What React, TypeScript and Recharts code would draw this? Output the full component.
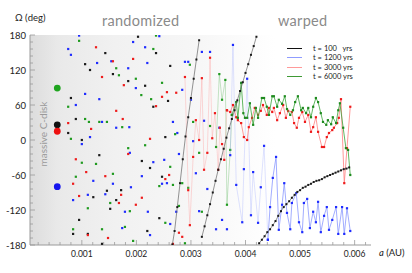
import { ComposedChart, Scatter, XAxis, YAxis } from 'recharts';

type Pt = [number, number];

// semi-major axis a (AU) vs node longitude Omega (deg)
const diskGreen: Pt[] = [[0.00055, 89]];
const diskBlack: Pt[] = [[0.00055, 26]];
const diskRed: Pt[] = [[0.00055, 15]];
const diskBlue: Pt[] = [[0.00055, -80]];

// t = 100 yrs
const blackRandom: Pt[] = [
  [0.00075, 12], [0.0008, 72], [0.00084, -161], [0.00089, 36], [0.00095, -137], [0.001, 0],
  [0.00106, 130], [0.00111, -161], [0.00115, 120], [0.00121, -98], [0.00132, -26], [0.00137, -178],
  [0.00143, 149], [0.00146, -87], [0.00152, -118], [0.00157, 113], [0.00163, -103], [0.00172, -86],
  [0.00185, 101], [0.00203, 177], [0.0021, -36], [0.00216, 93], [0.0022, -156], [0.00225, -48],
  [0.00231, 57], [0.00236, 149], [0.00242, -134], [0.00247, -63], [0.00253, 5], [0.00258, 67],
  [0.00262, 127],
];
const blackWarp1: Pt[] = [
  [0.00266, -179], [0.0027, -156], [0.00275, -115], [0.0028, -74], [0.00285, -33], [0.0029, 6],
  [0.00295, 39], [0.003, 72], [0.00305, 105], [0.0031, 138], [0.00315, 171],
];
const blackWarp2: Pt[] = [
  [0.0032, -166], [0.00325, -148], [0.0033, -129], [0.00335, -110], [0.0034, -90], [0.00345, -70],
  [0.0035, -51], [0.00355, -33], [0.0036, -15], [0.00365, 4], [0.0037, 20], [0.00375, 36],
  [0.0038, 51], [0.00385, 68], [0.0039, 84], [0.00395, 99], [0.004, 115], [0.00405, 130],
  [0.0041, 146], [0.00415, 161], [0.0042, 177],
];
const blackWarp3: Pt[] = [
  [0.00425, -177], [0.0043, -171], [0.00435, -165], [0.0044, -158], [0.00445, -153], [0.0045, -146],
  [0.00455, -139], [0.0046, -130], [0.00465, -122], [0.0047, -115], [0.00475, -110], [0.0048, -105],
  [0.00485, -99], [0.0049, -94], [0.00495, -89], [0.005, -86], [0.00505, -82], [0.0051, -80],
  [0.00515, -77], [0.0052, -75], [0.00525, -72], [0.0053, -70], [0.00535, -69], [0.0054, -67],
  [0.00545, -64], [0.0055, -62], [0.00555, -60], [0.0056, -58], [0.00565, -56], [0.0057, -54],
  [0.00575, -52], [0.0058, -50], [0.00585, -49], [0.0059, -47],
];

// t = 1200 yrs
const blueRandom: Pt[] = [
  [0.00075, 156], [0.0008, 146], [0.00084, -103], [0.00089, 60], [0.00095, 179], [0.001, -7],
  [0.00106, 79], [0.00111, -94], [0.00115, 5], [0.00121, -70], [0.00128, 132], [0.00132, 70],
  [0.00137, 31], [0.00143, -93], [0.00154, 135], [0.00157, -75], [0.00163, 21], [0.00174, -151],
  [0.00179, -123], [0.00185, 123], [0.00187, 22], [0.00188, -22], [0.0019, -81], [0.00194, 168],
  [0.00199, 89], [0.0021, -62], [0.00216, 159], [0.0022, 132], [0.00221, -123], [0.00225, -163],
  [0.00231, -38], [0.00242, 178], [0.00247, -75], [0.00251, -34], [0.00256, -74], [0.00262, -144],
  [0.00267, 31], [0.00273, -123], [0.00275, 12], [0.00278, -24], [0.00284, 86], [0.00289, 134],
  [0.00295, 134], [0.003, 69], [0.00304, -2], [0.00309, -57], [0.00315, -122], [0.0032, 151],
  [0.00324, 33], [0.0033, -84], [0.00335, 151], [0.00346, -153], [0.00352, 21], [0.00357, -137],
  [0.00366, -153],
];
const blueFaint: Pt[] = [
  [0.00372, -26], [0.00377, 163], [0.00383, -77], [0.00394, -141], [0.00397, -50], [0.00403, 105],
  [0.0041, -129], [0.00414, -55], [0.00423, -142], [0.00428, -81], [0.00434, -10], [0.00441, -171],
];
const blueWarp: Pt[] = [
  [0.00441, -171], [0.00445, -115], [0.0045, -65], [0.00456, -29], [0.00461, -154], [0.00467, -111],
  [0.00471, -74], [0.00476, -125], [0.00482, -153], [0.00485, -108], [0.00493, -91], [0.00498, -141],
  [0.00504, -158], [0.00507, -108], [0.00513, -101], [0.00518, -151], [0.00524, -123], [0.00529, -141],
  [0.00533, -106], [0.00538, -158], [0.00544, -130], [0.00549, -115], [0.00553, -154], [0.00559, -137],
  [0.00566, -115], [0.0057, -161], [0.00577, -115], [0.00581, -161], [0.00586, -117], [0.00592, -156],
];

// t = 3000 yrs
const redRandom: Pt[] = [
  [0.00075, 29], [0.00084, -75], [0.00089, -33], [0.00095, -96], [0.00108, -55], [0.00111, -163],
  [0.00117, 19], [0.00126, 159], [0.00137, 108], [0.00143, -62], [0.00148, -168], [0.00157, 135],
  [0.00163, 50], [0.00168, -108], [0.00172, -94], [0.00175, 36], [0.00177, 94], [0.00185, -24],
  [0.00194, 139], [0.00199, -111], [0.0021, -99], [0.00225, 2], [0.00236, 58], [0.00247, 74],
  [0.00253, -67], [0.00256, 82], [0.0026, -60], [0.00267, -178], [0.00273, 81], [0.00278, -159],
  [0.00284, -166],
];
const redFaint: Pt[] = [
  [0.00289, 108], [0.00295, -86], [0.00298, -146], [0.00304, -29], [0.00309, 34], [0.00315, 0],
  [0.0032, 106], [0.00324, -51], [0.0033, -22], [0.00335, 141], [0.00339, 3], [0.00344, 46],
  [0.0035, -51], [0.00353, 21], [0.00357, -7], [0.00361, -34], [0.00366, 51],
];
const redWarp: Pt[] = [
  [0.00366, 51], [0.00372, 48], [0.00377, 60], [0.00383, 39], [0.00386, 34], [0.00392, 29],
  [0.00397, 5], [0.00403, 0], [0.00406, 22], [0.00412, 38], [0.00417, 55], [0.00423, 43],
  [0.00428, 50], [0.00432, 60], [0.00439, 43], [0.00443, 55], [0.00449, 48], [0.00452, 55],
  [0.00458, 34], [0.00463, 46], [0.00469, 60], [0.00474, 38], [0.00478, 50], [0.00485, 48],
  [0.00489, 29], [0.00494, 21], [0.00498, 38], [0.00504, 48], [0.00509, 31], [0.00515, 43],
  [0.0052, 14], [0.00524, 22], [0.00529, 39], [0.00533, 14], [0.0054, -12], [0.00544, -12],
  [0.00549, 5], [0.00553, 12], [0.00559, 17], [0.00562, 21], [0.00568, 29], [0.00571, 38],
  [0.00575, 70], [0.00581, -74], [0.00586, -14], [0.00592, 57],
];

// t = 6000 yrs
const greenRandom: Pt[] = [
  [0.00075, 57], [0.0008, 2], [0.00084, -153], [0.00089, -63], [0.00095, 170], [0.001, -39],
  [0.00106, 36], [0.00111, -117], [0.00113, 31], [0.00126, -41], [0.00132, 31], [0.00137, -153],
  [0.00146, 31], [0.00152, -108], [0.00157, -58], [0.00163, 123], [0.00168, 111], [0.00174, 22],
  [0.00179, -149], [0.00185, -14], [0.00188, -122], [0.00194, -173], [0.00199, 105], [0.00209, 77],
  [0.00216, -9], [0.00227, 70], [0.00231, 156], [0.00236, 179], [0.00242, -79], [0.00247, 98],
  [0.00253, -142], [0.00262, -46], [0.00267, -77], [0.00271, 10], [0.00278, -113], [0.00284, -74],
  [0.00289, -177], [0.00295, -82], [0.00298, 129], [0.00304, 31], [0.00315, -22], [0.0032, -123],
  [0.00335, 24],
];
const greenFaint: Pt[] = [
  [0.00346, -12], [0.00352, 113], [0.00357, 69], [0.00363, 103], [0.00366, -111], [0.00372, -17],
  [0.00375, 43],
];
const greenWarp: Pt[] = [
  [0.00375, 43], [0.00383, 65], [0.00386, 38], [0.00392, 98], [0.00396, 46], [0.00399, 38],
  [0.00403, 38], [0.00408, 63], [0.00414, 26], [0.00419, 55], [0.00423, 38], [0.0043, 72],
  [0.00434, 72], [0.00439, 57], [0.00443, 43], [0.00449, 75], [0.00452, 75], [0.00458, 57],
  [0.00461, 69], [0.00467, 62], [0.00472, 75], [0.00476, 53], [0.00482, 43], [0.00487, 51],
  [0.00491, 65], [0.00496, 75], [0.00502, 51], [0.00505, 55], [0.00511, 46], [0.00515, 55],
  [0.0052, 39], [0.00524, 57], [0.00529, 72], [0.00533, 65], [0.00538, 46], [0.00542, 31],
  [0.00548, 26], [0.00551, 34], [0.00557, 27], [0.0056, 39], [0.00566, 29], [0.0057, 51],
  [0.00573, 63], [0.00579, 21], [0.00584, -14], [0.00588, -17], [0.00592, -60],
];

const xTicks = [
  0.0002, 0.0004, 0.0006, 0.0008, 0.001, 0.0012, 0.0014, 0.0016, 0.0018, 0.002, 0.0022,
  0.0024, 0.0026, 0.0028, 0.003, 0.0032, 0.0034, 0.0036, 0.0038, 0.004, 0.0042, 0.0044,
  0.0046, 0.0048, 0.005, 0.0052, 0.0054, 0.0056, 0.0058, 0.006, 0.0062,
];
const yTicks = [
  -180, -168, -156, -144, -132, -120, -108, -96, -84, -72, -60, -48, -36, -24, -12, 0,
  12, 24, 36, 48, 60, 72, 84, 96, 108, 120, 132, 144, 156, 168, 180,
];
const legendLabels = ['t = 100   yrs', 't = 1200 yrs', 't = 3000 yrs', 't = 6000 yrs'];
const legendColors = ['#111111', '#8f9cff', '#ff9a9a', '#3f9a35'];

const FONT = 'Lato, "Open Sans", sans-serif';
const AXIS = '#9a9a9a';

const toPts = (pts: Pt[]) => pts.map(([a, w]) => ({ a, w }));
const isMajorX = (v: number) => Math.abs(v * 1000 - Math.round(v * 1000)) < 1e-6;
const isMajorY = (v: number) => v % 60 === 0;

const square = (fill: string, s = 2.2) => (p: any) => (
  <rect x={p.cx - s / 2} y={p.cy - s / 2} width={s} height={s} fill={fill} />
);
const bigDot = (fill: string) => (p: any) => <circle cx={p.cx} cy={p.cy} r={3.4} fill={fill} />;

function BottomTick({ x, y, payload }: any) {
  const major = isMajorX(payload.value);
  return (
    <g>
      <line x1={x} y1={y} x2={x} y2={y - (major ? 5 : 3)} stroke={AXIS} strokeWidth={0.8} />
      {major && (
        <text x={x} y={y + 12} textAnchor="middle" fontSize={8.5} fill="#222" fontFamily={FONT}>
          {payload.value.toFixed(3)}
        </text>
      )}
    </g>
  );
}

function TopTick({ x, y, payload }: any) {
  const major = isMajorX(payload.value);
  return <line x1={x} y1={y} x2={x} y2={y + (major ? 5 : 3)} stroke={AXIS} strokeWidth={0.8} />;
}

function LeftTick({ x, y, payload }: any) {
  const major = isMajorY(payload.value);
  return (
    <g>
      <line x1={x} y1={y} x2={x + (major ? 5 : 3)} y2={y} stroke={AXIS} strokeWidth={0.8} />
      {major && (
        <text x={x - 4} y={y + 3.5} textAnchor="end" fontSize={9.5} fill="#222" fontFamily={FONT}>
          {payload.value}
        </text>
      )}
    </g>
  );
}

function RightTick({ x, y, payload }: any) {
  const major = isMajorY(payload.value);
  return <line x1={x} y1={y} x2={x - (major ? 5 : 3)} y2={y} stroke={AXIS} strokeWidth={0.8} />;
}

export default function App() {
  return (
    <div style={{ position: 'absolute', left: 0, top: 0, width: 412, height: 273, background: '#fff', fontFamily: FONT }}>
      <div
        style={{
          position: 'absolute', left: 30, top: 35, width: 341, height: 210,
          background: 'linear-gradient(to right, #dcdcdc 0%, #e9e9e9 8%, #f1f1f1 25%, #f7f7f7 50%, #ffffff 72%)',
        }}
      />
      <ComposedChart
        width={412}
        height={273}
        margin={{ top: 35, right: 41, bottom: 0, left: 0 }}
        style={{ position: 'absolute', left: 0, top: 0 }}
      >
        <XAxis
          type="number" dataKey="a" domain={[0.00005, 0.0063]} allowDataOverflow ticks={xTicks}
          interval={0} height={28} tickSize={0} tickMargin={0} tickLine={false}
          axisLine={{ stroke: AXIS }} tick={<BottomTick />}
        />
        <XAxis
          xAxisId="top" orientation="top" type="number" domain={[0.00005, 0.0063]} allowDataOverflow
          ticks={xTicks} interval={0} height={0} tickSize={0} tickMargin={0} tickLine={false}
          axisLine={{ stroke: AXIS }} tick={<TopTick />}
        />
        <YAxis
          type="number" dataKey="w" domain={[-180, 180]} allowDataOverflow ticks={yTicks}
          interval={0} width={30} tickSize={0} tickMargin={0} tickLine={false}
          axisLine={{ stroke: AXIS }} tick={<LeftTick />}
        />
        <YAxis
          yAxisId="right" orientation="right" type="number" domain={[-180, 180]} allowDataOverflow
          ticks={yTicks} interval={0} width={0} tickSize={0} tickMargin={0} tickLine={false}
          axisLine={{ stroke: AXIS }} tick={<RightTick />}
        />

        <Scatter data={toPts(blackRandom)} shape={square('#1a1a1a')} isAnimationActive={false} />
        <Scatter data={toPts(blueRandom)} shape={square('#1f2cff')} isAnimationActive={false} />
        <Scatter data={toPts(redRandom)} shape={square('#ee1c1c')} isAnimationActive={false} />
        <Scatter data={toPts(greenRandom)} shape={square('#1f9a1f')} isAnimationActive={false} />

        <Scatter data={toPts(redFaint)} line={{ stroke: '#ff8a8a', strokeWidth: 0.7, strokeOpacity: 0.45 }} lineType="joint" shape={square('#ee1c1c')} isAnimationActive={false} />
        <Scatter data={toPts(greenFaint)} line={{ stroke: '#4cae4c', strokeWidth: 0.7, strokeOpacity: 0.45 }} lineType="joint" shape={square('#1f9a1f')} isAnimationActive={false} />
        <Scatter data={toPts(blueFaint)} line={{ stroke: '#9aa6ff', strokeWidth: 0.7, strokeOpacity: 0.45 }} lineType="joint" shape={square('#1f2cff')} isAnimationActive={false} />

        <Scatter data={toPts(blueWarp)} line={{ stroke: '#8a98ff', strokeWidth: 0.8 }} lineType="joint" shape={square('#1f2cff')} isAnimationActive={false} />
        <Scatter data={toPts(redWarp)} line={{ stroke: '#ff7f7f', strokeWidth: 0.8 }} lineType="joint" shape={square('#ee1c1c')} isAnimationActive={false} />
        <Scatter data={toPts(greenWarp)} line={{ stroke: '#3aa53a', strokeWidth: 0.8 }} lineType="joint" shape={square('#1f8a1f')} isAnimationActive={false} />

        <Scatter data={toPts(blackWarp1)} line={{ stroke: '#666', strokeWidth: 0.7 }} lineType="joint" shape={square('#1a1a1a', 2)} isAnimationActive={false} />
        <Scatter data={toPts(blackWarp2)} line={{ stroke: '#666', strokeWidth: 0.7 }} lineType="joint" shape={square('#1a1a1a', 2)} isAnimationActive={false} />
        <Scatter data={toPts(blackWarp3)} line={{ stroke: '#666', strokeWidth: 0.7 }} lineType="joint" shape={square('#1a1a1a', 2)} isAnimationActive={false} />

        <Scatter data={toPts(diskGreen)} shape={bigDot('#1fa51f')} isAnimationActive={false} />
        <Scatter data={toPts(diskBlack)} shape={bigDot('#111')} isAnimationActive={false} />
        <Scatter data={toPts(diskRed)} shape={bigDot('#ee1111')} isAnimationActive={false} />
        <Scatter data={toPts(diskBlue)} shape={bigDot('#1515ee')} isAnimationActive={false} />
      </ComposedChart>

      <div style={{ position: 'absolute', left: 15, top: 12, fontSize: 9.5, color: '#222' }}>Ω (deg)</div>
      <div style={{ position: 'absolute', left: 102, top: 12, fontSize: 14.5, color: '#8a8a8a', letterSpacing: 0.3 }}>randomized</div>
      <div style={{ position: 'absolute', left: 278, top: 12, fontSize: 14.5, color: '#8a8a8a', letterSpacing: 0.3 }}>warped</div>
      <div
        style={{
          position: 'absolute', left: -7, top: 128, width: 100, textAlign: 'center', fontSize: 10,
          color: '#9a9a9a', transform: 'rotate(-90deg)', transformOrigin: '50% 50%', whiteSpace: 'nowrap',
        }}
      >
        massive C-disk
      </div>
      <div style={{ position: 'absolute', left: 379, top: 247, fontSize: 9.5, color: '#222', whiteSpace: 'pre' }}>
        <span style={{ fontStyle: 'italic' }}>a</span> (AU)
      </div>
      {legendLabels.map((label, i) => (
        <div key={label} style={{ position: 'absolute', left: 287, top: 44 + i * 9.4, height: 9, display: 'flex', alignItems: 'center' }}>
          <div style={{ width: 15, borderTop: `1.2px solid ${legendColors[i]}` }} />
          <div style={{ marginLeft: 11, fontSize: 7.5, color: '#222', whiteSpace: 'pre', lineHeight: '9px' }}>{label}</div>
        </div>
      ))}
    </div>
  );
}
